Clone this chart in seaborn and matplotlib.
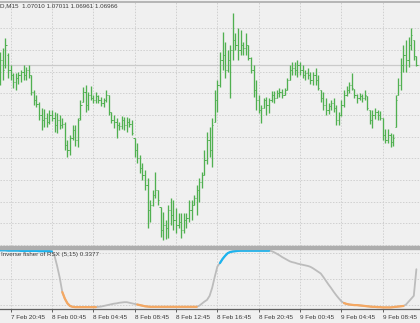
import numpy as np
import pandas as pd
import matplotlib
matplotlib.use("Agg")
import matplotlib.pyplot as plt
import seaborn as sns
from matplotlib.lines import Line2D
from matplotlib.patches import Rectangle

# ---------------- data ----------------
symbol_text = "D,M15  1.07010 1.07011 1.06961 1.06966"
indicator_title = "Inverse fisher of RSX (5,15) 0.3377"
time_labels = ["7 Feb 20:45", "8 Feb 00:45", "8 Feb 04:45", "8 Feb 08:45", "8 Feb 12:45",
               "8 Feb 16:45", "8 Feb 20:45", "9 Feb 00:45", "9 Feb 04:45", "9 Feb 08:45"]
label_bars = [4, 20, 36, 52, 68, 84, 100, 116, 132, 148]
bid_price = 1.06966
ifish_levels = [0.9, 0.0, -0.9]

opens = [1.06890, 1.06990, 1.06965, 1.07015, 1.06940, 1.06915, 1.06880, 1.06900, 1.06915, 1.06930,
         1.06915, 1.06940, 1.06915, 1.06830, 1.06790, 1.06770, 1.06715, 1.06690, 1.06700, 1.06680,
         1.06715, 1.06700, 1.06665, 1.06690, 1.06665, 1.06670, 1.06565, 1.06540, 1.06600, 1.06640,
         1.06590, 1.06700, 1.06780, 1.06830, 1.06765, 1.06815, 1.06800, 1.06790, 1.06810, 1.06790,
         1.06775, 1.06790, 1.06815, 1.06730, 1.06690, 1.06680, 1.06665, 1.06660, 1.06690, 1.06665,
         1.06680, 1.06670, 1.06600, 1.06540, 1.06500, 1.06450, 1.06415, 1.06365, 1.06240, 1.06265,
         1.06315, 1.06340, 1.06255, 1.06140, 1.06165, 1.06150, 1.06240, 1.06215, 1.06190, 1.06165,
         1.06180, 1.06140, 1.06190, 1.06200, 1.06240, 1.06265, 1.06300, 1.06340, 1.06380, 1.06415,
         1.06490, 1.06590, 1.06540, 1.06680, 1.06790, 1.06865, 1.06990, 1.07015, 1.06940, 1.06990,
         1.07040, 1.07090, 1.07065, 1.07040, 1.07065, 1.07050, 1.07065, 1.07000, 1.06940, 1.06840,
         1.06790, 1.06740, 1.06750, 1.06790, 1.06765, 1.06790, 1.06815, 1.06800, 1.06825, 1.06830,
         1.06815, 1.06840, 1.06890, 1.06940, 1.06950, 1.06940, 1.06965, 1.06940, 1.06915, 1.06925,
         1.06915, 1.06890, 1.06915, 1.06890, 1.06840, 1.06800, 1.06765, 1.06740, 1.06760, 1.06775,
         1.06750, 1.06690, 1.06715, 1.06765, 1.06815, 1.06840, 1.06865, 1.06845, 1.06815, 1.06800,
         1.06810, 1.06800, 1.06810, 1.06740, 1.06690, 1.06715, 1.06730, 1.06715, 1.06700, 1.06615,
         1.06590, 1.06615, 1.06580, 1.06655, 1.06815, 1.06865, 1.06965, 1.07015, 1.06990, 1.07065,
         1.07090, 1.07010]

highs = [1.07030, 1.07050, 1.07100, 1.07025, 1.06965, 1.06925, 1.06925, 1.06930, 1.06940, 1.06965,
         1.06955, 1.06965, 1.06915, 1.06840, 1.06815, 1.06780, 1.06750, 1.06745, 1.06725, 1.06740,
         1.06740, 1.06730, 1.06725, 1.06715, 1.06700, 1.06680, 1.06590, 1.06615, 1.06665, 1.06665,
         1.06700, 1.06790, 1.06855, 1.06865, 1.06830, 1.06860, 1.06815, 1.06830, 1.06815, 1.06805,
         1.06800, 1.06840, 1.06815, 1.06730, 1.06715, 1.06700, 1.06680, 1.06710, 1.06705, 1.06705,
         1.06700, 1.06690, 1.06600, 1.06575, 1.06515, 1.06475, 1.06440, 1.06400, 1.06290, 1.06340,
         1.06430, 1.06340, 1.06255, 1.06230, 1.06190, 1.06265, 1.06300, 1.06290, 1.06250, 1.06225,
         1.06225, 1.06225, 1.06225, 1.06290, 1.06290, 1.06315, 1.06365, 1.06400, 1.06430, 1.06540,
         1.06630, 1.06655, 1.06700, 1.06840, 1.06890, 1.07030, 1.07130, 1.07080, 1.07040, 1.07065,
         1.07225, 1.07125, 1.07150, 1.07140, 1.07080, 1.07125, 1.07065, 1.07005, 1.06965, 1.06890,
         1.06815, 1.06765, 1.06800, 1.06805, 1.06800, 1.06835, 1.06835, 1.06840, 1.06850, 1.06845,
         1.06850, 1.06900, 1.06965, 1.06980, 1.06980, 1.06990, 1.06980, 1.06965, 1.06940, 1.06950,
         1.06930, 1.06930, 1.06950, 1.06915, 1.06840, 1.06830, 1.06800, 1.06775, 1.06790, 1.06800,
         1.06765, 1.06730, 1.06790, 1.06840, 1.06860, 1.06880, 1.06925, 1.06845, 1.06820, 1.06825,
         1.06820, 1.06840, 1.06810, 1.06740, 1.06740, 1.06750, 1.06740, 1.06735, 1.06700, 1.06645,
         1.06645, 1.06625, 1.06620, 1.06815, 1.06900, 1.07000, 1.07065, 1.07090, 1.07105, 1.07150,
         1.07090, 1.07011]

lows = [1.06865, 1.06890, 1.06950, 1.06900, 1.06890, 1.06850, 1.06840, 1.06870, 1.06880, 1.06890,
        1.06890, 1.06900, 1.06815, 1.06765, 1.06755, 1.06690, 1.06640, 1.06655, 1.06655, 1.06670,
        1.06685, 1.06630, 1.06625, 1.06645, 1.06650, 1.06540, 1.06505, 1.06515, 1.06590, 1.06560,
        1.06555, 1.06690, 1.06780, 1.06730, 1.06740, 1.06790, 1.06775, 1.06775, 1.06775, 1.06760,
        1.06755, 1.06780, 1.06715, 1.06675, 1.06650, 1.06600, 1.06640, 1.06645, 1.06640, 1.06630,
        1.06655, 1.06615, 1.06505, 1.06475, 1.06425, 1.06390, 1.06340, 1.06150, 1.06180, 1.06260,
        1.06300, 1.06265, 1.06105, 1.06090, 1.06095, 1.06100, 1.06165, 1.06140, 1.06125, 1.06150,
        1.06100, 1.06125, 1.06150, 1.06180, 1.06190, 1.06265, 1.06215, 1.06280, 1.06350, 1.06415,
        1.06470, 1.06505, 1.06455, 1.06680, 1.06730, 1.06855, 1.06940, 1.06900, 1.06930, 1.06800,
        1.06990, 1.07040, 1.06990, 1.07015, 1.07015, 1.07015, 1.06990, 1.06925, 1.06805, 1.06740,
        1.06725, 1.06675, 1.06750, 1.06715, 1.06725, 1.06780, 1.06775, 1.06800, 1.06805, 1.06800,
        1.06815, 1.06840, 1.06890, 1.06915, 1.06915, 1.06905, 1.06915, 1.06900, 1.06890, 1.06895,
        1.06870, 1.06865, 1.06865, 1.06840, 1.06780, 1.06740, 1.06715, 1.06720, 1.06740, 1.06730,
        1.06665, 1.06665, 1.06710, 1.06755, 1.06810, 1.06825, 1.06840, 1.06800, 1.06775, 1.06790,
        1.06780, 1.06790, 1.06740, 1.06670, 1.06650, 1.06695, 1.06690, 1.06690, 1.06590, 1.06575,
        1.06575, 1.06555, 1.06560, 1.06655, 1.06815, 1.06840, 1.06930, 1.06930, 1.06955, 1.07040,
        1.06990, 1.06961]

closes = [1.06990, 1.06940, 1.07065, 1.06940, 1.06915, 1.06880, 1.06900, 1.06915, 1.06930, 1.06915,
          1.06940, 1.06915, 1.06830, 1.06790, 1.06770, 1.06715, 1.06690, 1.06700, 1.06680, 1.06715,
          1.06700, 1.06665, 1.06690, 1.06665, 1.06670, 1.06565, 1.06540, 1.06600, 1.06640, 1.06590,
          1.06690, 1.06765, 1.06830, 1.06765, 1.06815, 1.06800, 1.06790, 1.06810, 1.06790, 1.06775,
          1.06790, 1.06815, 1.06730, 1.06690, 1.06680, 1.06665, 1.06660, 1.06690, 1.06665, 1.06680,
          1.06670, 1.06625, 1.06540, 1.06500, 1.06450, 1.06415, 1.06365, 1.06240, 1.06265, 1.06315,
          1.06340, 1.06290, 1.06140, 1.06165, 1.06150, 1.06240, 1.06215, 1.06190, 1.06165, 1.06180,
          1.06140, 1.06190, 1.06200, 1.06240, 1.06265, 1.06300, 1.06340, 1.06380, 1.06415, 1.06490,
          1.06590, 1.06540, 1.06665, 1.06790, 1.06865, 1.06990, 1.07015, 1.06940, 1.06990, 1.07040,
          1.07090, 1.07065, 1.07040, 1.07065, 1.07050, 1.07065, 1.07000, 1.06940, 1.06840, 1.06790,
          1.06740, 1.06750, 1.06790, 1.06765, 1.06790, 1.06815, 1.06800, 1.06825, 1.06830, 1.06815,
          1.06840, 1.06890, 1.06940, 1.06950, 1.06940, 1.06965, 1.06940, 1.06915, 1.06925, 1.06915,
          1.06890, 1.06915, 1.06890, 1.06850, 1.06800, 1.06765, 1.06740, 1.06760, 1.06775, 1.06750,
          1.06690, 1.06715, 1.06765, 1.06815, 1.06840, 1.06865, 1.06850, 1.06815, 1.06800, 1.06810,
          1.06800, 1.06815, 1.06750, 1.06690, 1.06715, 1.06730, 1.06715, 1.06700, 1.06615, 1.06590,
          1.06615, 1.06580, 1.06600, 1.06790, 1.06865, 1.06965, 1.07015, 1.06990, 1.07065, 1.07115,
          1.07010, 1.06966]

ifish = [0.99, 0.99, 0.99, 0.98, 0.98, 0.98, 0.98, 0.98, 0.97, 0.97,
         0.97, 0.97, 0.97, 0.97, 0.97, 0.96, 0.96, 0.96, 0.96, 0.96,
         0.95, 0.80, 0.45, 0.05, -0.45, -0.68, -0.84, -0.93, -0.96, -0.97,
         -0.97, -0.97, -0.97, -0.97, -0.97, -0.97, -0.97, -0.97, -0.96, -0.95,
         -0.93, -0.91, -0.89, -0.87, -0.85, -0.84, -0.82, -0.81, -0.80, -0.80,
         -0.82, -0.84, -0.86, -0.88, -0.90, -0.92, -0.94, -0.95, -0.96, -0.96,
         -0.96, -0.96, -0.96, -0.96, -0.96, -0.96, -0.96, -0.96, -0.96, -0.96,
         -0.96, -0.96, -0.96, -0.96, -0.96, -0.96, -0.96, -0.92, -0.85, -0.78,
         -0.72, -0.58, -0.30, 0.08, 0.43, 0.55, 0.69, 0.80, 0.89, 0.93,
         0.95, 0.96, 0.97, 0.975, 0.975, 0.975, 0.975, 0.975, 0.975, 0.975,
         0.975, 0.975, 0.975, 0.975, 0.975, 0.96, 0.92, 0.87, 0.82, 0.76,
         0.71, 0.66, 0.61, 0.58, 0.56, 0.53, 0.51, 0.49, 0.47, 0.45,
         0.42, 0.37, 0.31, 0.25, 0.19, 0.07, -0.06, -0.19, -0.31, -0.44,
         -0.56, -0.67, -0.77, -0.83, -0.86, -0.88, -0.89, -0.90, -0.90, -0.91,
         -0.92, -0.93, -0.94, -0.95, -0.96, -0.96, -0.97, -0.97, -0.98, -0.98,
         -0.98, -0.98, -0.97, -0.96, -0.95, -0.94, -0.93, -0.88, -0.78, -0.68,
         -0.58, 0.3377]

# bar ranges where the indicator is in its "up" (blue) / "down" (orange) state
up_ranges = [(0, 20), (85, 104)]
down_ranges = [(24, 37), (53, 76), (133, 156)]

# ---------------- style ----------------
sns.set_theme(style="white")
plt.rcParams["font.family"] = ["Liberation Sans", "DejaVu Sans"]

BG = "#f0f0f0"
GRID = "#d0d0d0"
GREEN = "#50b050"
GRAY_LINE = "#bcbcbc"
BLUE = "#1ab4f0"
ORANGE = "#f5a862"

W, H = 420, 323
fig = plt.figure(figsize=(W / 100, H / 100), dpi=100)
fig.patch.set_facecolor(BG)

def fy(px):
    return (H - px) / H

ax1 = fig.add_axes([0, fy(246), 1, 244 / H])
ax2 = fig.add_axes([0, fy(309), 1, 60 / H])
for ax in (ax1, ax2):
    ax.set_facecolor(BG)
    for s in ax.spines.values():
        s.set_visible(False)

n = len(closes)
idx = np.arange(n)
xlim = (-0.1, 162.4)
DOT = (0, (1.5, 1.5))

# ---------------- price panel ----------------
ax1.set_xlim(*xlim)
ax1.set_ylim(1.0729 - 0.00005 * 246, 1.0729 - 0.00005 * 2)
grid_prices = [1.0729 - 0.00005 * (28.3 + 21.65 * k) for k in range(11)]
for gp in grid_prices:
    ax1.axhline(gp, color=GRID, lw=0.7, ls=DOT, zorder=0)
for b in label_bars:
    ax1.axvline(b, color=GRID, lw=0.7, ls=DOT, zorder=0)
ax1.axhline(bid_price, color="#cacaca", lw=0.9, zorder=1)

ax1.vlines(idx, lows, highs, color=GREEN, lw=0.95, zorder=3)
ax1.hlines(opens, idx - 0.45, idx, color=GREEN, lw=0.7, zorder=3)
ax1.hlines(closes, idx, idx + 0.45, color=GREEN, lw=0.7, zorder=3)
ax1.set_xticks([])
ax1.set_yticks([])

# ---------------- indicator panel ----------------
df = pd.DataFrame({"bar": idx, "ifish": ifish})
sns.lineplot(data=df, x="bar", y="ifish", ax=ax2, color=GRAY_LINE, lw=1.3, zorder=3)

seg_rows = []
for k, (a, b) in enumerate(up_ranges):
    for i in range(a, b + 1):
        seg_rows.append({"bar": i, "ifish": ifish[i], "state": "up", "seg": f"u{k}"})
for k, (a, b) in enumerate(down_ranges):
    for i in range(a, b + 1):
        seg_rows.append({"bar": i, "ifish": ifish[i], "state": "down", "seg": f"d{k}"})
seg_df = pd.DataFrame(seg_rows)
sns.lineplot(data=seg_df, x="bar", y="ifish", hue="state", units="seg", estimator=None,
             palette={"up": BLUE, "down": ORANGE}, lw=1.6, legend=False, ax=ax2, zorder=4)

ax2.set_xlim(*xlim)
ax2.set_ylim(-30 / 29, 30 / 29)
for lv in ifish_levels:
    ax2.axhline(lv, color=GRID, lw=0.7, ls=DOT, zorder=0)
for b in label_bars:
    ax2.axvline(b, color=GRID, lw=0.7, ls=DOT, zorder=0)
ax2.set_xlabel("")
ax2.set_ylabel("")
ax2.set_yticks([])
ax2.spines["bottom"].set_visible(True)
ax2.spines["bottom"].set_color("#606060")
ax2.spines["bottom"].set_linewidth(0.9)
ax2.set_xticks(label_bars)
ax2.set_xticklabels(time_labels, ha="left", fontsize=4.6, color="#3a3a3a")
ax2.tick_params(axis="x", length=2.5, width=0.7, color="#606060", pad=1.5, direction="out",
                bottom=True)

# ---------------- frame pieces and texts ----------------
fig.add_artist(Rectangle((0, fy(249)), 1, 3 / H, transform=fig.transFigure,
                         color="#adadad", zorder=5))
fig.add_artist(Line2D([0, 1], [fy(1.5), fy(1.5)], transform=fig.transFigure,
                      color="#ababab", lw=1.2))
fig.text(0.0, fy(6), symbol_text, ha="left", va="center", fontsize=4.5, color="#3a3a3a")
fig.text(1 / W, fy(254.5), indicator_title, ha="left", va="center", fontsize=4.5,
         color="#3a3a3a")

fig.savefig("out.png", dpi=100, facecolor=BG)
